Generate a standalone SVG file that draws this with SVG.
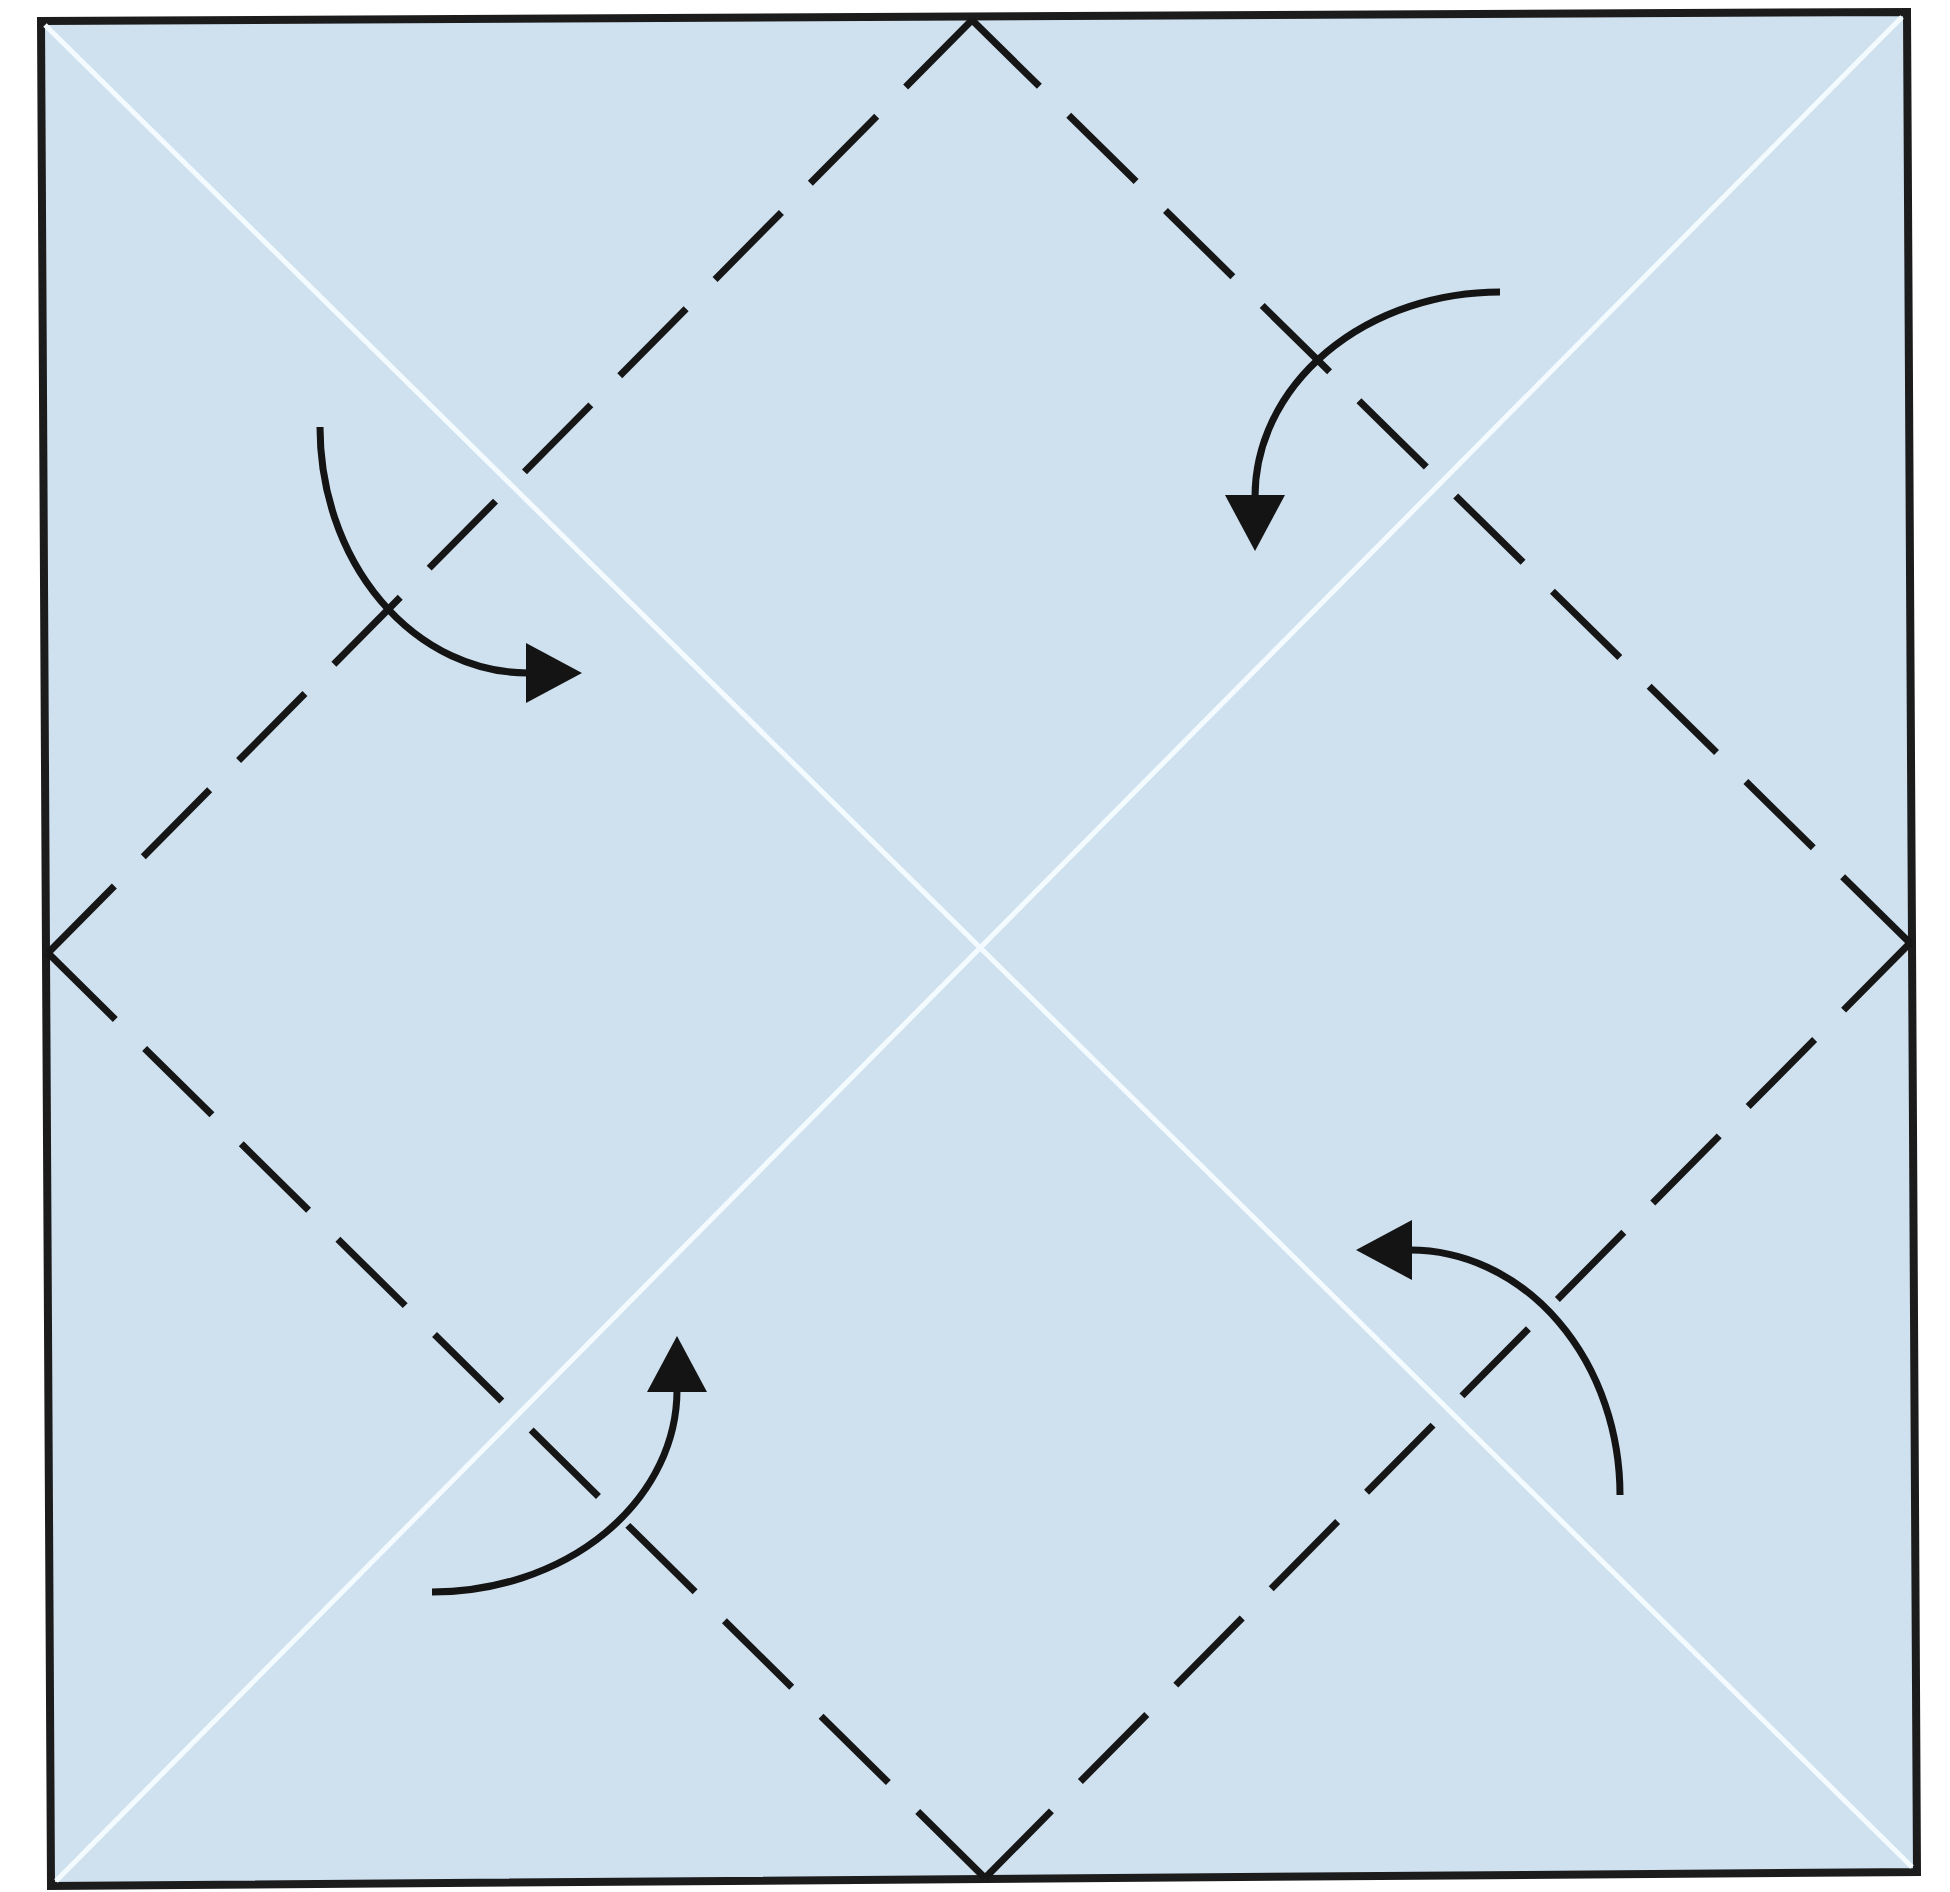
<svg xmlns="http://www.w3.org/2000/svg" width="1950" height="1892" viewBox="0 0 1950 1892">
  <style>
    .paper { fill: #cfe0ef; stroke: #1c1c1c; stroke-width: 8; stroke-linejoin: miter; }
    .diag { stroke: #f4fbff; stroke-width: 5; fill: none; }
    .valley { stroke: #161616; stroke-width: 7; fill: none; stroke-dasharray: 94 41; stroke-linecap: butt; }
    .arrow { stroke: #141414; stroke-width: 7; fill: none; marker-end: url(#head); }
  </style>
  <defs>
    <marker id="head" markerUnits="userSpaceOnUse" markerWidth="62" markerHeight="62" refX="2" refY="30" orient="auto" viewBox="0 0 62 62">
      <path d="M0,0 L56,30 L0,60 Z" fill="#141414"/>
    </marker>
  </defs>
  <rect width="1950" height="1892" fill="#ffffff"/>
  <g id="paper">
    <polygon class="paper" points="41,21 1907,12 1917,1872 51,1886"/>
  </g>
  <g id="creases">
    <line class="diag" x1="45" y1="25" x2="1912" y2="1867"/>
    <line class="diag" x1="1902" y1="17" x2="56" y2="1881"/>
  </g>
  <g id="valley-folds">
    <line class="valley" x1="972" y1="20" x2="48" y2="953" pathLength="1309"/>
    <line class="valley" x1="48" y1="953" x2="985" y2="1878" pathLength="1309"/>
    <line class="valley" x1="985" y1="1878" x2="1910" y2="943" pathLength="1309"/>
    <line class="valley" x1="1910" y1="943" x2="972" y2="20" pathLength="1309"/>
  </g>
  <g id="arrows">
    <path id="arrow-tl" class="arrow" d="M320,427 A208,246 0 0 0 528,673"/>
    <path id="arrow-tr" class="arrow" d="M1500,292 A245,205 0 0 0 1255,497"/>
    <path id="arrow-bl" class="arrow" d="M432,1592 A245,202 0 0 0 677,1390"/>
    <path id="arrow-br" class="arrow" d="M1620,1495 A210,245 0 0 0 1410,1250"/>
  </g>
</svg>
